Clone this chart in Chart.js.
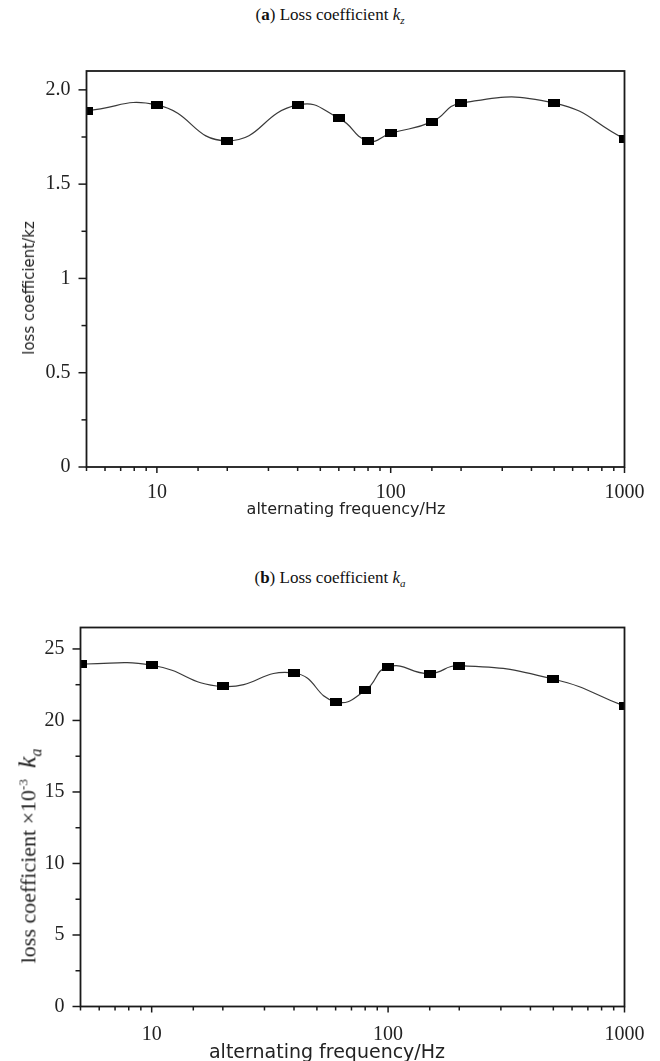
<!DOCTYPE html>
<html><head><meta charset="utf-8">
<script src="https://cdn.jsdelivr.net/npm/chart.js@4"></script>
<style>
html,body{margin:0;padding:0;background:#fff;}
body{width:660px;height:1061px;position:relative;overflow:hidden;}
.box{position:absolute;left:0;width:660px;}
canvas{display:block;}
.title{position:absolute;left:0;width:660px;text-align:center;font-family:"Liberation Serif",serif;font-size:17px;color:#111;white-space:nowrap;}
.ytitle{position:absolute;white-space:nowrap;color:#222;}
.xtitle{position:absolute;white-space:nowrap;font-family:"DejaVu Sans",sans-serif;color:#222;}
</style></head>
<body>
<div class="title" style="top:5px;">(<b>a</b>) Loss coefficient <i>k<sub style="font-size:11px">z</sub></i></div>
<div class="box" style="top:40px;height:480px;"><canvas id="cA" width="660" height="480"></canvas></div>
<div class="ytitle" style="left:29px;top:288px;font-family:'DejaVu Sans',sans-serif;font-size:15px;transform:translate(-50%,-50%) rotate(-90deg);">loss coefficient/kz</div>
<div class="xtitle" style="left:346px;top:508px;font-size:16px;transform:translate(-50%,-50%);">alternating frequency/Hz</div>

<div class="title" style="top:568px;">(<b>b</b>) Loss coefficient <i>k<sub style="font-size:11px">a</sub></i></div>
<div class="box" style="top:580px;height:481px;"><canvas id="cB" width="660" height="481"></canvas></div>
<div class="ytitle" style="left:29px;top:856px;font-family:'Liberation Serif',serif;font-size:22px;transform:translate(-50%,-50%) rotate(-90deg);">loss coefficient ×10<sup style="font-size:13px">-3</sup>&nbsp; <i style="font-size:26px">k<sub style="font-size:16px">a</sub></i></div>
<div class="xtitle" style="left:327px;top:1051px;font-size:19px;transform:translate(-50%,-50%);">alternating frequency/Hz</div>

<script>
// ---- data ----
const freqA = [5, 10, 20, 40, 60, 80, 100, 150, 200, 500, 1000];
const kz    = [1.89, 1.92, 1.73, 1.92, 1.85, 1.73, 1.77, 1.83, 1.93, 1.93, 1.74];
const freqB = [5, 10, 20, 40, 60, 80, 100, 150, 200, 500, 1000];
const ka    = [23.95, 23.86, 22.38, 23.32, 21.31, 22.1, 23.75, 23.28, 23.84, 22.9, 21.0];
const xTickValues = [10, 100, 1000];
const xTickLabels = ['10', '100', '1000'];
const yTickValuesA = [0, 0.5, 1, 1.5, 2];
const yTickLabelsA = ['0', '0.5', '1', '1.5', '2.0'];
const yTickValuesB = [0, 5, 10, 15, 20, 25];
const yTickLabelsB = ['0', '5', '10', '15', '20', '25'];

// marker: small black rectangle
const marker = document.createElement('canvas');
marker.width = 12; marker.height = 8;
(function(){const c = marker.getContext('2d'); c.fillStyle = '#000'; c.fillRect(0,0,12,8);})();

const frame = {
  id: 'frame',
  afterDraw(chart) {
    const {ctx, chartArea: a, scales} = chart;
    ctx.save();
    ctx.strokeStyle = '#1a1a1a';
    ctx.lineWidth = 1.8;
    ctx.strokeRect(a.left, a.top, a.right - a.left, a.bottom - a.top);
    ctx.lineWidth = 1.5;
    const ys = scales.y, xs = scales.x;
    const yMajor = chart.options.yMajor;
    ys.ticks.forEach(t => {
      const p = ys.getPixelForValue(t.value);
      const major = yMajor.some(v => Math.abs(v - t.value) < 1e-9);
      const len = major ? 8 : 5;
      ctx.beginPath(); ctx.moveTo(a.left - len, p); ctx.lineTo(a.left, p); ctx.stroke();
    });
    xs.ticks.forEach(t => {
      const p = xs.getPixelForValue(t.value);
      const major = xTickValues.includes(t.value);
      const len = major ? 6 : 4;
      ctx.beginPath(); ctx.moveTo(p, a.bottom); ctx.lineTo(p, a.bottom + len); ctx.stroke();
    });
    ctx.restore();
  }
};

function makeChart(id, xsArr, ysArr, cfg) {
  const pts = xsArr.map((x, i) => ({x: x, y: ysArr[i]}));
  return new Chart(document.getElementById(id), {
    type: 'line',
    data: { datasets: [{
      data: pts,
      borderColor: '#3a3a3a',
      borderWidth: 1.2,
      tension: 0.5,
      pointStyle: marker,
      pointRadius: 5,
      pointHoverRadius: 5,
      fill: false
    }]},
    options: {
      responsive: false,
      animation: false,
      events: [],
      yMajor: cfg.yVals,
      layout: { padding: { top: cfg.padTop, right: 35.5, left: 0, bottom: 0 } },
      plugins: { legend: { display: false }, tooltip: { enabled: false } },
      scales: {
        x: {
          type: 'logarithmic',
          min: 5, max: 1000,
          grid: { display: false },
          border: { display: false },
          afterFit(s) { s.height = cfg.xHeight; },
          ticks: {
            autoSkip: false, maxRotation: 0, minRotation: 0,
            padding: cfg.xPad,
            color: '#222',
            font: { family: 'Liberation Serif', size: 20 },
            callback: (v) => { const i = xTickValues.indexOf(v); return i >= 0 ? xTickLabels[i] : ''; }
          }
        },
        y: {
          type: 'linear',
          min: 0, max: cfg.yMax,
          grid: { display: false },
          border: { display: false },
          afterFit(s) { s.width = cfg.yWidth; },
          ticks: {
            stepSize: cfg.step,
            includeBounds: false,
            padding: 8,
            color: '#222',
            font: { family: 'Liberation Serif', size: 20 },
            callback: (v) => {
              const i = cfg.yVals.findIndex(u => Math.abs(u - v) < 1e-9);
              return i >= 0 ? cfg.yLabels[i] : '';
            }
          }
        }
      }
    },
    plugins: [frame]
  });
}

makeChart('cA', freqA, kz, { yMax: 2.1, step: 0.25, yVals: yTickValuesA, yLabels: yTickLabelsA,
  padTop: 31, xHeight: 53, yWidth: 86.5, xPad: 6 });
makeChart('cB', freqB, ka, { yMax: 26.5, step: 2.5, yVals: yTickValuesB, yLabels: yTickLabelsB,
  padTop: 47.5, xHeight: 54.5, yWidth: 80.5, xPad: 8 });
</script>
</body></html>
